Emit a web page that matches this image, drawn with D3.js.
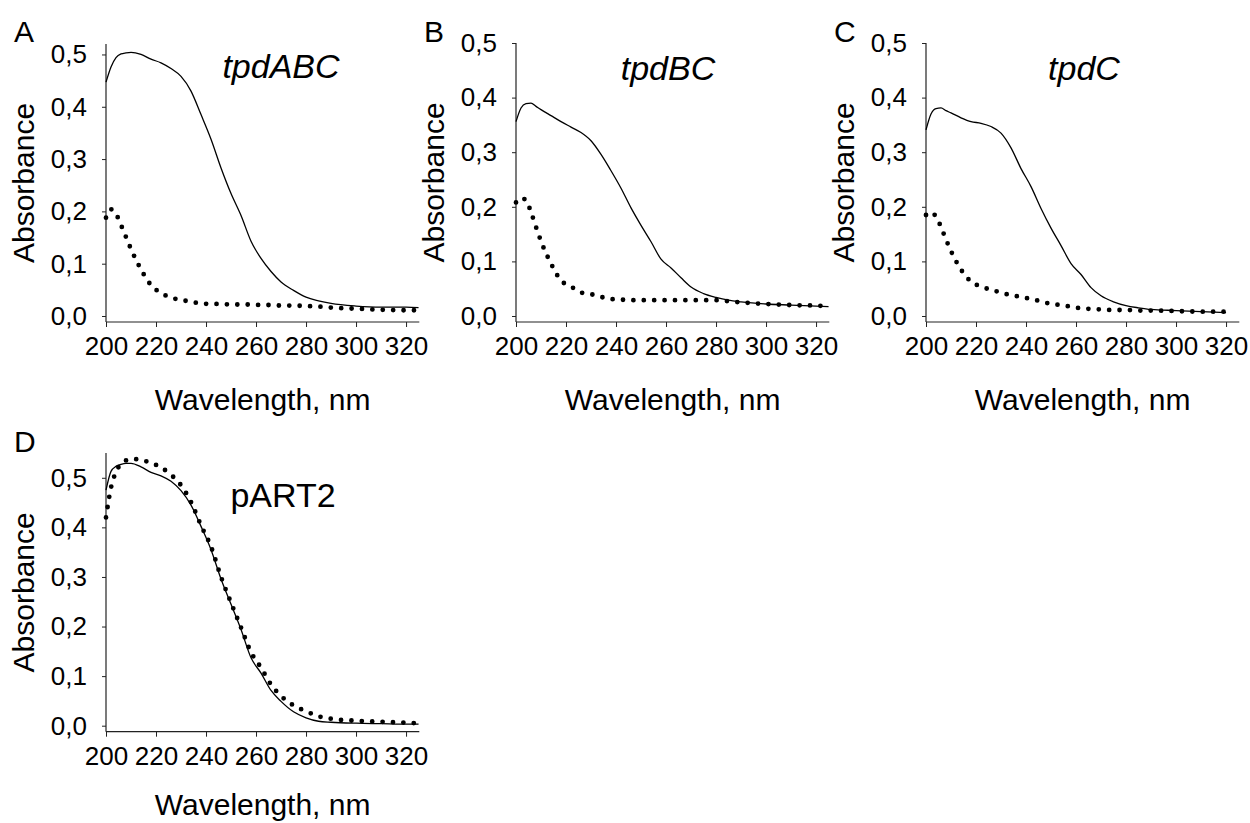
<!DOCTYPE html>
<html>
<head>
<meta charset="utf-8">
<script src="https://cdn.jsdelivr.net/npm/d3@7"></script>
<style>
  body { margin: 0; background: #fff; }
  text { font-family: "Liberation Sans", Arial, sans-serif; fill: #000; }
</style>
</head>
<body>
<div id="chart"></div>
<script>
// wavelengths (nm) at which the spectra were read
var wavelength = [200, 202, 204, 206, 208, 210, 214, 218, 222, 226, 230, 234, 238, 242, 246,
    250, 254, 258, 262, 266, 270, 275, 280, 285, 290, 300, 310, 320, 325];

// A - tpdABC
var aSolid = [0.447, 0.476, 0.494, 0.501, 0.503, 0.504, 0.500, 0.491, 0.484, 0.473, 0.458, 0.430, 0.385, 0.338, 0.283,
    0.234, 0.192, 0.143, 0.110, 0.085, 0.065, 0.049, 0.036, 0.029, 0.024, 0.019, 0.017, 0.017, 0.016];
var aDotted = [0.188, 0.204, 0.195, 0.174, 0.151, 0.128, 0.089, 0.059, 0.044, 0.035, 0.031, 0.027, 0.024, 0.023, 0.023,
    0.022, 0.022, 0.022, 0.021, 0.021, 0.020, 0.020, 0.019, 0.018, 0.016, 0.014, 0.012, 0.011, 0.011];

// B - tpdBC
var bSolid = [0.356, 0.381, 0.389, 0.390, 0.384, 0.378, 0.367, 0.356, 0.346, 0.336, 0.321, 0.296, 0.266, 0.234, 0.198,
    0.166, 0.136, 0.104, 0.088, 0.070, 0.053, 0.041, 0.034, 0.029, 0.026, 0.022, 0.020, 0.018, 0.017];
var bDotted = [0.208, 0.216, 0.212, 0.190, 0.163, 0.137, 0.096, 0.065, 0.054, 0.043, 0.040, 0.035, 0.031, 0.030, 0.029,
    0.029, 0.029, 0.029, 0.029, 0.029, 0.029, 0.029, 0.029, 0.027, 0.025, 0.022, 0.020, 0.019, 0.018];

// C - tpdC
var cSolid = [0.341, 0.370, 0.380, 0.381, 0.376, 0.372, 0.363, 0.356, 0.353, 0.347, 0.335, 0.308, 0.270, 0.237, 0.197,
    0.161, 0.129, 0.096, 0.076, 0.052, 0.037, 0.026, 0.019, 0.015, 0.012, 0.010, 0.008, 0.006, null];
var cDotted = [0.185, 0.190, 0.182, 0.163, 0.140, 0.119, 0.085, 0.063, 0.054, 0.048, 0.043, 0.038, 0.035, 0.031, 0.027,
    0.022, 0.020, 0.017, 0.014, 0.013, 0.012, 0.011, 0.011, 0.010, 0.010, 0.009, 0.008, 0.008, null];

// D - pART2
var dSolid = [0.475, 0.513, 0.523, 0.527, 0.529, 0.529, 0.522, 0.511, 0.504, 0.493, 0.474, 0.445, 0.402, 0.355, 0.296,
    0.245, 0.194, 0.137, 0.106, 0.071, 0.049, 0.028, 0.016, 0.009, 0.007, 0.005, 0.004, 0.003, 0.003];
var dDotted = [0.420, 0.480, 0.512, 0.528, 0.535, 0.538, 0.536, 0.530, 0.521, 0.506, 0.485, 0.451, 0.404, 0.361, 0.300,
    0.248, 0.198, 0.148, 0.117, 0.083, 0.060, 0.041, 0.029, 0.019, 0.014, 0.010, 0.008, 0.006, 0.005];

var xTicks = [200, 220, 240, 260, 280, 300, 320];
var yTicks = [0, 0.1, 0.2, 0.3, 0.4, 0.5];

var panels = [
    {letter: "A", name: "tpdABC", italic: true, solid: aSolid, dotted: aDotted, yMax: 0.52,
        x0: 106, yZero: 316, yTop: 44, letterY: 42, nameDx: 175, nameY: 78, titleDy: 88},
    {letter: "B", name: "tpdBC", italic: true, solid: bSolid, dotted: bDotted, yMax: 0.5,
        x0: 516, yZero: 316, yTop: 43, letterY: 42, nameDx: 152, nameY: 80, titleDy: 88},
    {letter: "C", name: "tpdC", italic: true, solid: cSolid, dotted: cDotted, yMax: 0.5,
        x0: 926, yZero: 316, yTop: 43, letterY: 42, nameDx: 158, nameY: 80, titleDy: 88},
    {letter: "D", name: "pART2", italic: false, solid: dSolid, dotted: dDotted, yMax: 0.55,
        x0: 106, yZero: 725.7, yTop: 453, letterY: 452, nameDx: 177, nameY: 507, titleDy: 83}
];

var svg = d3.select("#chart")
    .append("svg")
    .attr("width", 1250)
    .attr("height", 823);

svg.append("rect").attr("width", 1250).attr("height", 823).attr("fill", "#fff");

var fmt = function(d) { return d3.format(".1f")(d).replace(".", ","); };

function drawPanel(p) {
    var x = d3.scaleLinear().domain([200, 325.3]).range([p.x0, p.x0 + 313.3]);
    var y = d3.scaleLinear().domain([0, p.yMax]).range([p.yZero, p.yTop]);
    var axisY = p.yZero + 6;
    var g = svg.append("g");

    // x axis
    var gx = g.append("g")
        .attr("transform", "translate(0," + axisY + ")")
        .call(d3.axisBottom(x).tickValues(xTicks).tickSize(5).tickPadding(10).tickFormat(d3.format("d")));
    gx.select(".domain").remove();
    gx.selectAll("line").attr("stroke", "#222");
    gx.selectAll("text").attr("font-size", 26).style("font-family", "Liberation Sans, Arial, sans-serif");

    // y axis
    var gy = g.append("g")
        .attr("transform", "translate(" + p.x0 + ",0)")
        .call(d3.axisLeft(y).tickValues(yTicks).tickSize(4).tickPadding(15).tickFormat(fmt));
    gy.select(".domain").remove();
    gy.selectAll("line").attr("stroke", "#222");
    gy.selectAll("text").attr("font-size", 26).style("font-family", "Liberation Sans, Arial, sans-serif");

    // axis lines
    g.append("line")
        .attr("x1", x(200)).attr("x2", x(200))
        .attr("y1", y(p.yMax)).attr("y2", axisY)
        .attr("stroke", "#222").attr("stroke-width", 1.2);
    g.append("line")
        .attr("x1", x(200)).attr("x2", x(325.3))
        .attr("y1", axisY).attr("y2", axisY)
        .attr("stroke", "#222").attr("stroke-width", 1.2);

    var line = d3.line()
        .defined(function(d) { return d[1] !== null; })
        .x(function(d) { return x(d[0]); })
        .y(function(d) { return y(d[1]); })
        .curve(d3.curveMonotoneX);

    // solid spectrum
    g.append("path")
        .datum(d3.zip(wavelength, p.solid))
        .attr("d", line)
        .attr("fill", "none")
        .attr("stroke", "#000")
        .attr("stroke-width", 1.3);

    // dotted spectrum
    g.append("path")
        .datum(d3.zip(wavelength, p.dotted))
        .attr("d", line)
        .attr("fill", "none")
        .attr("stroke", "#000")
        .attr("stroke-width", 4.8)
        .attr("stroke-linecap", "round")
        .attr("stroke-dasharray", "0,10.4");

    // titles
    g.append("text")
        .attr("x", (x(200) + x(325.3)) / 2)
        .attr("y", axisY + p.titleDy)
        .attr("text-anchor", "middle")
        .attr("font-size", 30)
        .text("Wavelength, nm");

    g.append("text")
        .attr("transform", "translate(" + (p.x0 - 72) + "," + ((y(p.yMax) + axisY) / 2) + ")rotate(-90)")
        .attr("text-anchor", "middle")
        .attr("font-size", 30)
        .text("Absorbance");

    g.append("text")
        .attr("x", p.x0 - 92)
        .attr("y", p.letterY)
        .attr("font-size", 30)
        .text(p.letter);

    g.append("text")
        .attr("x", p.x0 + p.nameDx)
        .attr("y", p.nameY)
        .attr("text-anchor", "middle")
        .attr("font-size", 34)
        .attr("font-style", p.italic ? "italic" : "normal")
        .text(p.name);
}

panels.forEach(drawPanel);
</script>
</body>
</html>
